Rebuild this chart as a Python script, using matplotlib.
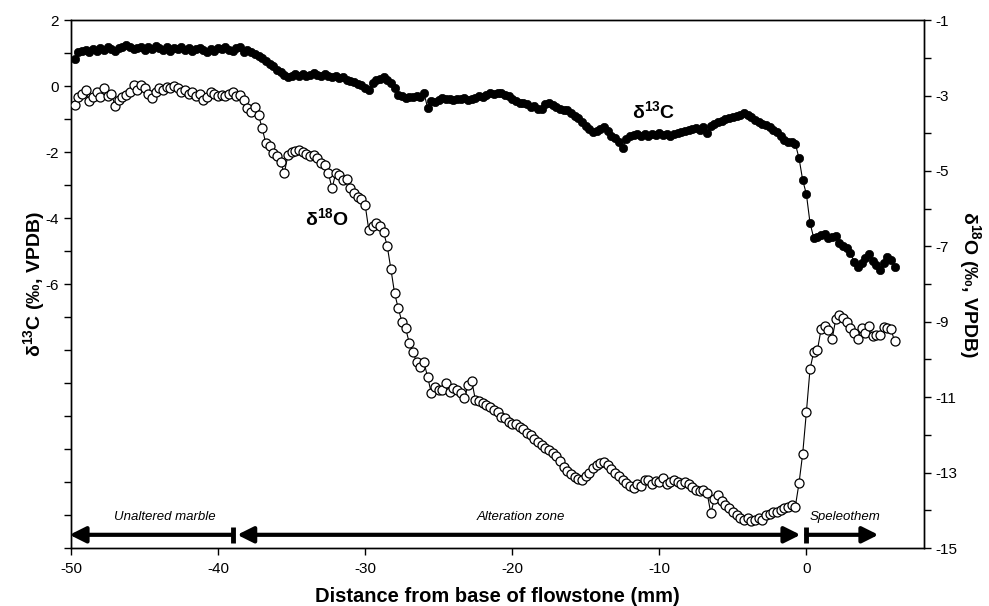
import numpy as np
import matplotlib
matplotlib.use("Agg")
import matplotlib.pyplot as plt
from matplotlib.patches import FancyArrowPatch

plt.rcParams['font.family'] = ['Liberation Sans', 'DejaVu Sans']
plt.rcParams['mathtext.fontset'] = 'custom'
plt.rcParams['mathtext.rm'] = 'Liberation Sans'
plt.rcParams['mathtext.bf'] = 'Liberation Sans:bold'
plt.rcParams['mathtext.default'] = 'regular'

# sampling positions (mm from base of flowstone), 0.25 mm step
distance = np.arange(-49.75, 6.01, 0.25)

# delta 13C (left axis), groups of 4 per mm
d13c = [
    0.82, 1.05, 1.08, 1.10,   1.05, 1.12, 1.08, 1.15,   1.10, 1.18, 1.12, 1.08,
    1.15, 1.20, 1.24, 1.18,   1.12, 1.15, 1.20, 1.10,   1.18, 1.12, 1.22, 1.15,
    1.10, 1.18, 1.08, 1.15,   1.12, 1.20, 1.10, 1.15,   1.08, 1.12, 1.15, 1.10,
    1.05, 1.12, 1.08, 1.15,   1.12, 1.18, 1.10, 1.08,   1.15, 1.20, 1.05, 1.10,
    1.03, 0.98, 0.90, 0.85,   0.75, 0.68, 0.60, 0.50,   0.42, 0.35, 0.27, 0.30,
    0.38, 0.32, 0.36, 0.30,   0.35, 0.40, 0.33, 0.30,   0.36, 0.32, 0.28, 0.30,
    0.25, 0.28, 0.20, 0.15,   0.12, 0.08, 0.02, -0.05,  -0.12, 0.10, 0.18, 0.22,
    0.27, 0.20, 0.10, -0.05,  -0.27, -0.30, -0.35, -0.33, -0.33, -0.30, -0.33, -0.20,
    -0.67, -0.45, -0.48, -0.42, -0.36, -0.40, -0.38, -0.42, -0.40, -0.38, -0.36, -0.42,
    -0.38, -0.35, -0.30, -0.32, -0.28, -0.21, -0.25, -0.20, -0.22, -0.27, -0.30, -0.38,
    -0.45, -0.52, -0.50, -0.55, -0.64, -0.60, -0.68, -0.70, -0.55, -0.52, -0.58, -0.62,
    -0.68, -0.72, -0.73, -0.80, -0.90, -0.97, -1.08, -1.20, -1.30, -1.39, -1.35, -1.30,
    -1.24, -1.35, -1.50, -1.58, -1.70, -1.88, -1.60, -1.50, -1.48, -1.45, -1.50, -1.46,
    -1.50, -1.45, -1.48, -1.42, -1.48, -1.44, -1.50, -1.45, -1.42, -1.39, -1.36, -1.33,
    -1.30, -1.28, -1.32, -1.25, -1.42, -1.22, -1.15, -1.09, -1.05, -1.00, -0.98, -0.94,
    -0.90, -0.88, -0.82, -0.86, -0.95, -1.03, -1.08, -1.15, -1.18, -1.25, -1.33, -1.39,
    -1.50, -1.64, -1.68, -1.70, -1.75, -2.18, -2.85, -3.27, -4.15, -4.60, -4.58, -4.50,
    -4.48, -4.61, -4.58, -4.55, -4.76, -4.85, -4.91, -5.05, -5.33, -5.48, -5.36, -5.20,
    -5.09, -5.30, -5.42, -5.58, -5.35, -5.18, -5.27, -5.48,
]

# delta 18O (right axis), groups of 4 per mm
d18o = [
    -3.25, -3.05, -2.95, -2.86,  -3.15, -3.04, -2.90, -3.05,  -2.81, -3.00, -2.95, -3.28,
    -3.12, -3.05, -2.99, -2.90,  -2.72, -2.85, -2.72, -2.80,  -2.95, -3.07, -2.90, -2.81,
    -2.85, -2.78, -2.80, -2.75,  -2.80, -2.90, -2.86, -2.95,  -2.90, -3.00, -2.95, -3.12,
    -3.05, -2.90, -2.95, -3.00,  -2.99, -3.00, -2.95, -2.91,  -3.00, -2.99, -3.12, -3.33,
    -3.44, -3.30, -3.52, -3.87,  -4.27, -4.35, -4.53, -4.60,  -4.77, -5.06, -4.58, -4.50,
    -4.48, -4.45, -4.50, -4.55,  -4.60, -4.58, -4.65, -4.79,  -4.85, -5.06, -5.46, -5.06,
    -5.10, -5.24, -5.20, -5.46,  -5.59, -5.69, -5.75, -5.90,  -6.57, -6.45, -6.38, -6.45,
    -6.62, -6.99, -7.60, -8.24,  -8.64, -9.00, -9.17, -9.56,  -9.80, -10.07, -10.20, -10.07,
    -10.47, -10.89, -10.73, -10.80, -10.81, -10.63, -10.86, -10.75, -10.81, -10.90, -11.02, -10.68,
    -10.57, -11.08, -11.10, -11.16, -11.20, -11.25, -11.34, -11.40, -11.53, -11.55, -11.65, -11.70,
    -11.72, -11.80, -11.85, -11.95, -12.00, -12.10, -12.20, -12.27, -12.35, -12.40, -12.48, -12.55,
    -12.70, -12.85, -12.95, -13.05, -13.12, -13.18, -13.20, -13.10, -13.00, -12.88, -12.80, -12.75,
    -12.72, -12.80, -12.90, -13.01, -13.10, -13.20, -13.28, -13.35, -13.41, -13.30, -13.35, -13.20,
    -13.20, -13.30, -13.22, -13.25, -13.15, -13.30, -13.25, -13.20, -13.25, -13.30, -13.25, -13.30,
    -13.38, -13.45, -13.50, -13.45, -13.54, -14.07, -13.70, -13.60, -13.75, -13.86, -13.95, -14.05,
    -14.13, -14.20, -14.26, -14.20, -14.28, -14.25, -14.20, -14.26, -14.13, -14.10, -14.05, -14.05,
    -14.00, -13.94, -13.90, -13.86, -13.90, -13.28, -12.50, -11.40, -10.25, -9.80, -9.75, -9.20,
    -9.10, -9.22, -9.46, -8.93, -8.82, -8.90, -9.00, -9.17, -9.30, -9.45, -9.17, -9.30,
    -9.11, -9.38, -9.36, -9.35, -9.14, -9.17, -9.20, -9.51,
]

x_ticks = [-50, -40, -30, -20, -10, 0]
left_ticks = [2, 0, -2, -4, -6]
right_ticks = [-1, -3, -5, -7, -9, -11, -13, -15]

zones = ["Unaltered marble", "Alteration zone", "Speleothem"]

fig = plt.figure(figsize=(9.89, 6.06), dpi=100)
ax = fig.add_axes([0.0718, 0.0957, 0.8625, 0.871])
ax2 = ax.twinx()

ax.plot(distance, d13c, '-', color='black', lw=0.8, marker='o', ms=6,
        mfc='black', mec='black', mew=0.5, zorder=3)
ax2.plot(distance, d18o, '-', color='black', lw=0.8, marker='o', ms=6.5,
         mfc='white', mec='black', mew=0.9, zorder=3)

ax.set_xlim(-50, 8)
ax.set_ylim(-14, 2)
ax2.set_ylim(-15, -1)

ax.set_xticks(x_ticks)
ax.set_xticklabels([str(v) for v in x_ticks])
ax.set_yticks(left_ticks)
ax.set_yticklabels([str(v) for v in left_ticks])
ax.set_yticks(np.arange(-14, 2.5, 1), minor=True)
ax2.set_yticks(right_ticks)
ax2.set_yticklabels([str(v) for v in right_ticks])
ax2.set_yticks(np.arange(-15, -0.5, 1), minor=True)

for a in (ax, ax2):
    a.tick_params(which='both', direction='out', labelsize=11, width=1, color='black')
    a.tick_params(which='major', length=5)
    a.tick_params(which='minor', length=5)
    for s in a.spines.values():
        s.set_linewidth(1.0)
ax.tick_params(axis='x', which='minor', bottom=False)
ax.tick_params(axis='x', pad=5)

ax.set_xlabel("Distance from base of flowstone (mm)", fontsize=14.5,
              fontweight='bold', labelpad=8)
ax.set_ylabel(r"δ$^{13}$C (‰, VPDB)", fontsize=14, fontweight='bold', labelpad=-1)
ax2.set_ylabel(r"δ$^{18}$O (‰, VPDB)", fontsize=14, fontweight='bold',
               rotation=-90, labelpad=18)

ax.text(-10.4, -0.75, r"δ$^{13}$C", fontsize=14, fontweight='bold',
        ha='center', va='center')
ax2.text(-32.6, -6.25, r"δ$^{18}$O", fontsize=14, fontweight='bold',
         ha='center', va='center')

# zone arrows along the bottom
tr = ax.get_xaxis_transform()
ya = 0.025
yt = 0.058

def arrow(x0, x1, style):
    p = FancyArrowPatch((x0, ya), (x1, ya), transform=tr, arrowstyle=style,
                        mutation_scale=24, lw=3, color='black',
                        shrinkA=0, shrinkB=0, clip_on=False)
    ax.add_patch(p)

arrow(-39.0, -50.1, '-|>')
arrow(-38.7, -0.4, '<|-|>')
arrow(0.0, 4.9, '-|>')
for xb in (-39.0, 0.0):
    ax.plot([xb, xb], [ya - 0.015, ya + 0.015], transform=tr, color='black',
            lw=3.5, solid_capstyle='butt', clip_on=False)

ax.text(-43.6, yt, zones[0], transform=tr, fontsize=9.5, style='italic',
        ha='center', va='center')
ax.text(-19.4, yt, zones[1], transform=tr, fontsize=9.5, style='italic',
        ha='center', va='center')
ax.text(2.6, yt, zones[2], transform=tr, fontsize=9.5, style='italic',
        ha='center', va='center')

fig.savefig("out.png", dpi=100)
